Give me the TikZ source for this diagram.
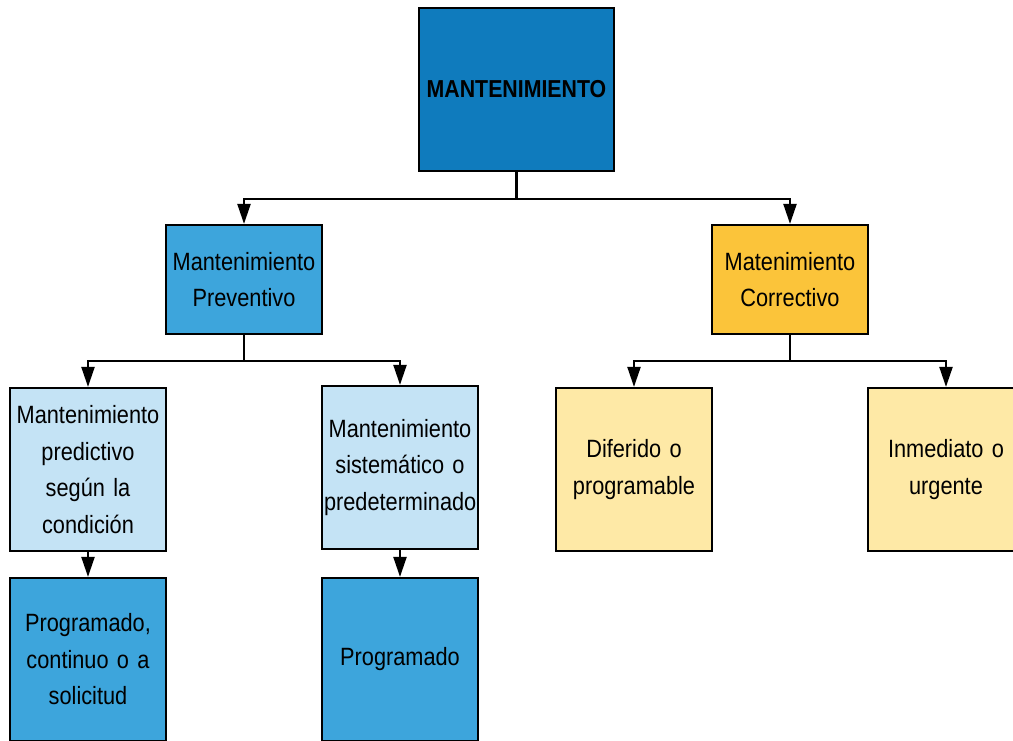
\documentclass[tikz,border=0pt]{standalone}
\usepackage{fontspec}
\setmainfont{Liberation Sans}[FakeStretch=0.87, WordSpace=0.8]
\usetikzlibrary{arrows.meta}
\definecolor{topblue}{HTML}{0F7BBD}
\definecolor{midblue}{HTML}{3DA5DC}
\definecolor{paleblue}{HTML}{C4E3F5}
\definecolor{amber}{HTML}{FBC43A}
\definecolor{paleyellow}{HTML}{FEE9A6}
\tikzset{
  box/.style={draw=black, line width=2.2pt, minimum width=156pt, minimum height=163pt,
    inner sep=0pt, text width=152pt, align=center,
    font=\fontsize{25}{36.5}\selectfont},
  wire/.style={draw=black, line width=2.2pt},
  arr/.style={wire, -{Triangle[length=20pt,width=13pt]}},
}
\begin{document}
\begin{tikzpicture}[x=1pt,y=1pt]
\useasboundingbox (0,0) rectangle (1013,-740);
\clip (0,0) rectangle (1013,-740);
\fill[white] (0,0) rectangle (1013,-740);

% root
\node[box, fill=topblue, minimum width=195pt, text width=190pt,
  font=\fontsize{24.5}{36}\bfseries\selectfont] (root) at (516.5,-89.5) {MANTENIMIENTO};

% second level
\node[box, fill=midblue, minimum height=109pt] (prev) at (244,-279.5) {Mantenimiento\\Preventivo};
\node[box, fill=amber, minimum height=109pt] (corr) at (790,-279.5) {Matenimiento\\Correctivo};

% third level
\node[box, fill=paleblue] (pred) at (88,-469.5) {Mantenimiento\\predictivo\\según la\\condición};
\node[box, fill=paleblue] (sist) at (400,-467.5) {Mantenimiento\\sistemático o\\predeterminado};
\node[box, fill=paleyellow] (dif) at (634,-469.5) {Diferido o\\programable};
\node[box, fill=paleyellow] (inm) at (946,-469.5) {Inmediato o\\urgente};

% fourth level
\node[box, fill=midblue] (prog1) at (88,-659.5) {Programado,\\continuo o a\\solicitud};
\node[box, fill=midblue] (prog2) at (400,-659.5) {Programado};

% junctions
\coordinate (j0) at ([yshift=-27pt]root.south);
\coordinate (j1) at ([yshift=-26pt]prev.south);
\coordinate (j2) at ([yshift=-26pt]corr.south);

\draw[wire] (root.south) -- (j0);
\draw[arr] (j0) -| (prev.north);
\draw[arr] (j0) -| (corr.north);

\draw[wire] (prev.south) -- (j1);
\draw[arr] (j1) -| (pred.north);
\draw[arr] (j1) -| (sist.north);

\draw[wire] (corr.south) -- (j2);
\draw[arr] (j2) -| (dif.north);
\draw[arr] (j2) -| (inm.north);

\draw[arr] (pred.south) -- (prog1.north);
\draw[arr] (sist.south) -- (prog2.north);
\end{tikzpicture}
\end{document}
